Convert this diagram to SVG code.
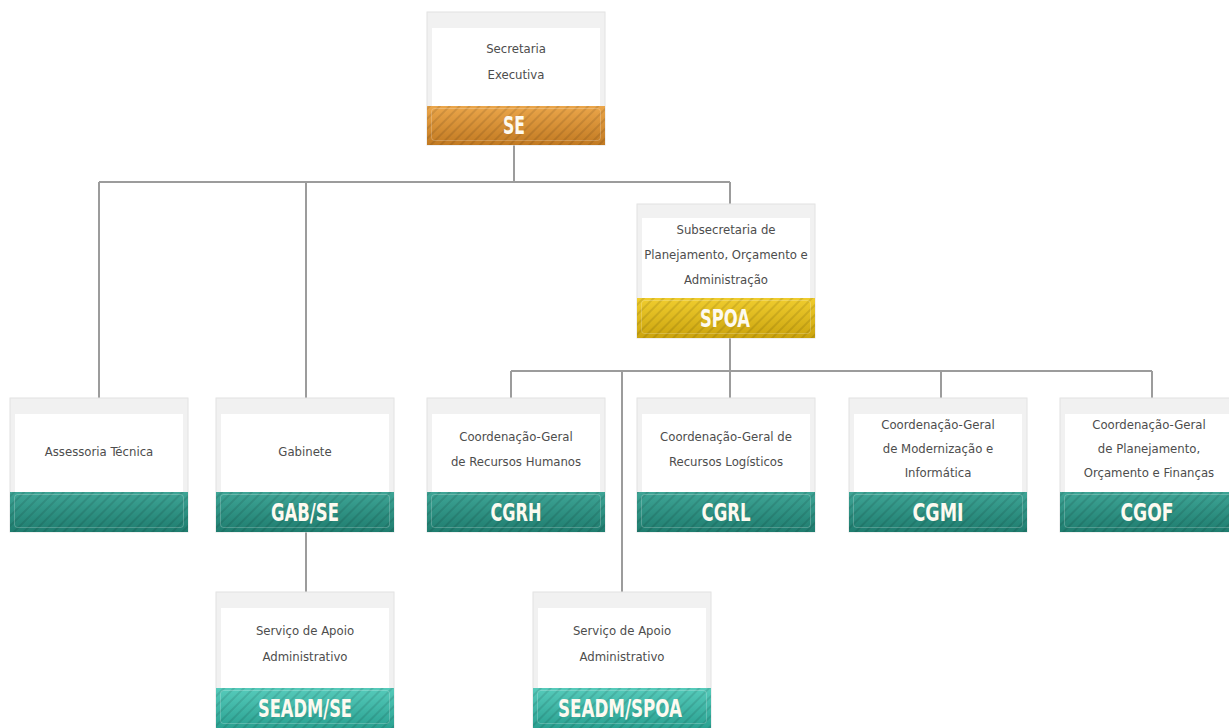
<svg xmlns="http://www.w3.org/2000/svg" width="1229" height="728" viewBox="0 0 1229 728">
<defs>
<pattern id="stripes" width="7" height="7" patternUnits="userSpaceOnUse" patternTransform="rotate(45)">
<rect x="0" y="0" width="2" height="7" fill="#000" fill-opacity="0.1"/>
</pattern>
<linearGradient id="gOrange" x1="0" y1="0" x2="0" y2="1">
<stop offset="0" stop-color="#eba64a"/><stop offset="1" stop-color="#c27a22"/>
</linearGradient>
<linearGradient id="gYellow" x1="0" y1="0" x2="0" y2="1">
<stop offset="0" stop-color="#f0cd2e"/><stop offset="1" stop-color="#cba40e"/>
</linearGradient>
<linearGradient id="gTeal" x1="0" y1="0" x2="0" y2="1">
<stop offset="0" stop-color="#3ea596"/><stop offset="1" stop-color="#1f7d6f"/>
</linearGradient>
<linearGradient id="gLight" x1="0" y1="0" x2="0" y2="1">
<stop offset="0" stop-color="#56cbbb"/><stop offset="1" stop-color="#2aa191"/>
</linearGradient>
<style>
.frame{fill:#f1f1f1;stroke:#e2e2e2;stroke-width:1}
.inner{fill:#ffffff}
.t{font-family:"DejaVu Sans Condensed","DejaVu Sans",sans-serif;font-stretch:condensed;font-size:13px;fill:#4d4d4d;text-anchor:middle}
.lbl{font-family:"DejaVu Sans Condensed","DejaVu Sans",sans-serif;font-stretch:condensed;font-size:24px;font-weight:bold;fill:#fdfaf0;text-anchor:middle}
.line{stroke:#9c9c9c;stroke-width:2;fill:none}
.stripe{fill:url(#stripes)}
.hl{fill:none;stroke:#ffffff;stroke-opacity:0.22;stroke-width:1}
</style>
</defs>

<g id="connectors">
<path class="line" d="M514 145 V182 M99 182 H730 M99 182 V398 M306 182 V398 M730 182 V204"/>
<path class="line" d="M730 338 V371 M511 371 H1152 M511 371 V398 M730 371 V398 M941 371 V398 M1152 371 V398 M622 371 V592"/>
<path class="line" d="M306 532 V592"/>
</g>

<g id="SE">
<rect class="frame" x="427" y="12" width="178" height="133"/>
<rect class="inner" x="432" y="28" width="168" height="78"/>
<rect x="427" y="106" width="178" height="39" fill="url(#gOrange)"/>
<rect class="stripe" x="427" y="106" width="178" height="39"/>
<rect class="hl" x="431.5" y="108.5" width="169" height="32" rx="3"/>
<text class="t" x="516" y="53">Secretaria</text>
<text class="t" x="516" y="79">Executiva</text>
<text class="lbl" x="514" y="134" textLength="22" lengthAdjust="spacingAndGlyphs">SE</text>
</g>

<g id="SPOA">
<rect class="frame" x="637" y="204" width="178" height="134"/>
<rect class="inner" x="642" y="218" width="168" height="80"/>
<rect x="637" y="298" width="178" height="40" fill="url(#gYellow)"/>
<rect class="stripe" x="637" y="298" width="178" height="40"/>
<rect class="hl" x="641.5" y="300.5" width="169" height="33" rx="3"/>
<text class="t" x="726" y="234">Subsecretaria de</text>
<text class="t" x="726" y="259">Planejamento, Orçamento e</text>
<text class="t" x="726" y="284">Administração</text>
<text class="lbl" x="725" y="327" textLength="50" lengthAdjust="spacingAndGlyphs">SPOA</text>
</g>

<g id="AT">
<rect class="frame" x="10" y="398" width="178" height="134"/>
<rect class="inner" x="15" y="414" width="168" height="78"/>
<rect x="10" y="492" width="178" height="40" fill="url(#gTeal)"/>
<rect class="stripe" x="10" y="492" width="178" height="40"/>
<rect class="hl" x="14.5" y="494.5" width="169" height="33" rx="3"/>
<text class="t" x="99" y="456">Assessoria Técnica</text>
</g>

<g id="GAB">
<rect class="frame" x="216" y="398" width="178" height="134"/>
<rect class="inner" x="221" y="414" width="168" height="78"/>
<rect x="216" y="492" width="178" height="40" fill="url(#gTeal)"/>
<rect class="stripe" x="216" y="492" width="178" height="40"/>
<rect class="hl" x="220.5" y="494.5" width="169" height="33" rx="3"/>
<text class="t" x="305" y="456">Gabinete</text>
<text class="lbl" x="305" y="521" textLength="68" lengthAdjust="spacingAndGlyphs">GAB/SE</text>
</g>

<g id="CGRH">
<rect class="frame" x="427" y="398" width="178" height="134"/>
<rect class="inner" x="432" y="414" width="168" height="78"/>
<rect x="427" y="492" width="178" height="40" fill="url(#gTeal)"/>
<rect class="stripe" x="427" y="492" width="178" height="40"/>
<rect class="hl" x="431.5" y="494.5" width="169" height="33" rx="3"/>
<text class="t" x="516" y="441">Coordenação-Geral</text>
<text class="t" x="516" y="466">de Recursos Humanos</text>
<text class="lbl" x="516" y="521" textLength="51" lengthAdjust="spacingAndGlyphs">CGRH</text>
</g>

<g id="CGRL">
<rect class="frame" x="637" y="398" width="178" height="134"/>
<rect class="inner" x="642" y="414" width="168" height="78"/>
<rect x="637" y="492" width="178" height="40" fill="url(#gTeal)"/>
<rect class="stripe" x="637" y="492" width="178" height="40"/>
<rect class="hl" x="641.5" y="494.5" width="169" height="33" rx="3"/>
<text class="t" x="726" y="441">Coordenação-Geral de</text>
<text class="t" x="726" y="466">Recursos Logísticos</text>
<text class="lbl" x="726" y="521" textLength="49" lengthAdjust="spacingAndGlyphs">CGRL</text>
</g>

<g id="CGMI">
<rect class="frame" x="849" y="398" width="178" height="134"/>
<rect class="inner" x="854" y="414" width="168" height="78"/>
<rect x="849" y="492" width="178" height="40" fill="url(#gTeal)"/>
<rect class="stripe" x="849" y="492" width="178" height="40"/>
<rect class="hl" x="853.5" y="494.5" width="169" height="33" rx="3"/>
<text class="t" x="938" y="429">Coordenação-Geral</text>
<text class="t" x="938" y="453">de Modernização e</text>
<text class="t" x="938" y="477">Informática</text>
<text class="lbl" x="938" y="521" textLength="51" lengthAdjust="spacingAndGlyphs">CGMI</text>
</g>

<g id="CGOF">
<rect class="frame" x="1060" y="398" width="178" height="134"/>
<rect class="inner" x="1065" y="414" width="168" height="78"/>
<rect x="1060" y="492" width="178" height="40" fill="url(#gTeal)"/>
<rect class="stripe" x="1060" y="492" width="178" height="40"/>
<rect class="hl" x="1064.5" y="494.5" width="169" height="33" rx="3"/>
<text class="t" x="1149" y="429">Coordenação-Geral</text>
<text class="t" x="1149" y="453">de Planejamento,</text>
<text class="t" x="1149" y="477">Orçamento e Finanças</text>
<text class="lbl" x="1147" y="521" textLength="53" lengthAdjust="spacingAndGlyphs">CGOF</text>
</g>

<g id="SEADM-SE">
<rect class="frame" x="216" y="592" width="178" height="136"/>
<rect class="inner" x="221" y="608" width="168" height="80"/>
<rect x="216" y="688" width="178" height="40" fill="url(#gLight)"/>
<rect class="stripe" x="216" y="688" width="178" height="40"/>
<rect class="hl" x="220.5" y="690.5" width="169" height="33" rx="3"/>
<text class="t" x="305" y="635">Serviço de Apoio</text>
<text class="t" x="305" y="661">Administrativo</text>
<text class="lbl" x="305" y="717" textLength="94" lengthAdjust="spacingAndGlyphs">SEADM/SE</text>
</g>

<g id="SEADM-SPOA">
<rect class="frame" x="533" y="592" width="178" height="136"/>
<rect class="inner" x="538" y="608" width="168" height="80"/>
<rect x="533" y="688" width="178" height="40" fill="url(#gLight)"/>
<rect class="stripe" x="533" y="688" width="178" height="40"/>
<rect class="hl" x="537.5" y="690.5" width="169" height="33" rx="3"/>
<text class="t" x="622" y="635">Serviço de Apoio</text>
<text class="t" x="622" y="661">Administrativo</text>
<text class="lbl" x="620" y="717" textLength="124" lengthAdjust="spacingAndGlyphs">SEADM/SPOA</text>
</g>
</svg>
